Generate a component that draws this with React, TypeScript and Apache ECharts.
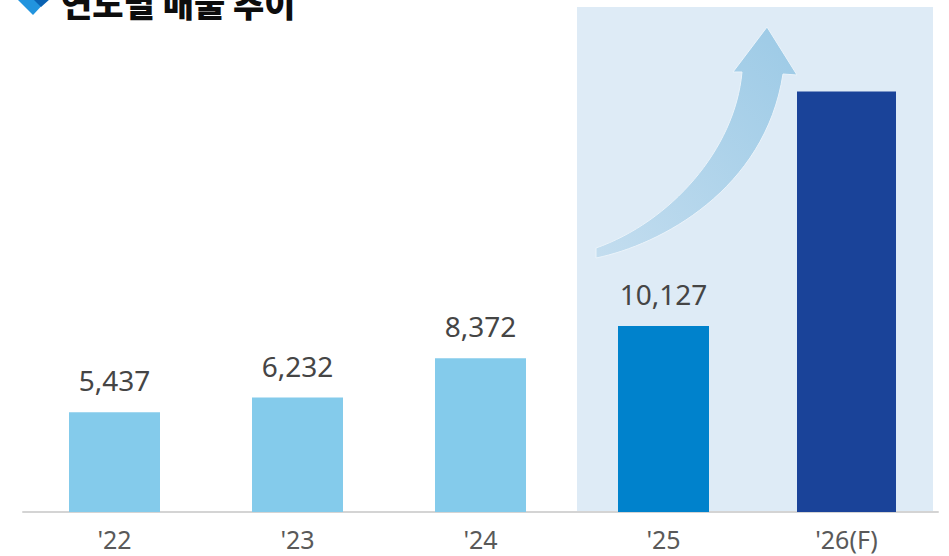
import React, { useEffect, useRef } from "react";
import * as echarts from "echarts";

const categories = ["'22", "'23", "'24", "'25", "'26(F)"];
const actualValues = [5437, 6232, 8372, 10127, null];
const forecastValues = [null, null, null, null, 22900];
const barColors = ["#84cbeb", "#84cbeb", "#84cbeb", "#0082cc", "#1a4399"];
const title = "연도별 매출 추이";

const ARROW_D =
  "M596,248 C670,222 735,150 742,72 L733,72 L767,27 L797,75 L783,74 C765,190 660,245 596,258 Z";
echarts.graphic.registerShape("logo", echarts.graphic.extendPath(ARROW_D, {}) as any);

export default function App() {
  const ref = useRef<HTMLDivElement>(null);
  useEffect(() => {
    if (!ref.current) return;
    const chart = echarts.init(ref.current, undefined, { renderer: "svg" });
    const fmt = (v: number) => v.toLocaleString("en-US");
    chart.setOption({
      animation: false,
      backgroundColor: "#ffffff",
      grid: { left: 23, right: 11, top: 7, bottom: 44, containLabel: false },
      xAxis: [
        {
          type: "category",
          data: categories,
          axisLine: { show: true, lineStyle: { color: "#d4d4d4", width: 2 } },
          axisTick: { show: false },
          axisLabel: {
            color: "#595959",
            fontSize: 25,
            fontFamily: "Noto Sans",
            margin: 14,
          },
        },
        { type: "category", data: categories, show: false },
      ],
      yAxis: {
        type: "value",
        min: 0,
        max: 27500,
        show: false,
        splitLine: { show: false },
      },
      graphic: [
        {
          type: "rect",
          z: -10,
          shape: { x: 577, y: 7, width: 356, height: 505 },
          style: { fill: "#deebf6" },
          silent: true,
        },
        {
          type: "logo",
          x: 0,
          y: 0,
          z: 5,
          style: {
            fill: new echarts.graphic.LinearGradient(0, 1, 1, 0, [
              { offset: 0, color: "#c3ddef" },
              { offset: 1, color: "#9ccae6" },
            ]),
            stroke: "#eaf3fa",
            lineWidth: 1,
          },
          silent: true,
        },
        {
          type: "polygon",
          shape: { points: [[17, -1], [33, 15], [48, -1]] },
          style: { fill: "#2294de" },
        },
        {
          type: "polygon",
          shape: { points: [[33, -1], [41, 7], [50, -1]] },
          style: { fill: "#0a62b2" },
        },
        {
          type: "text",
          x: 61,
          y: 2,
          style: {
            text: title,
            font: "900 34px 'Noto Sans CJK KR'",
            fill: "#0d0d0d",
            verticalAlign: "middle",
            align: "left",
          },
        },
      ],
      series: [
        {
          type: "bar",
          xAxisIndex: 0,
          barWidth: 91,
          data: actualValues.map((v, i) =>
            v == null ? "-" : { value: v, itemStyle: { color: barColors[i] } }
          ),
          label: {
            show: true,
            position: "top",
            distance: 18,
            color: "#454545",
            fontSize: 28,
            fontFamily: "Noto Sans",
            formatter: (p: any) => fmt(p.value),
          },
        },
        {
          type: "bar",
          xAxisIndex: 1,
          barWidth: 99,
          data: forecastValues.map((v, i) =>
            v == null ? "-" : { value: v, itemStyle: { color: barColors[i] } }
          ),
        },
      ],
    });
    return () => chart.dispose();
  }, []);
  return (
    <div
      ref={ref}
      style={{ width: 949, height: 556, position: "fixed", left: 0, top: 0 }}
    />
  );
}
